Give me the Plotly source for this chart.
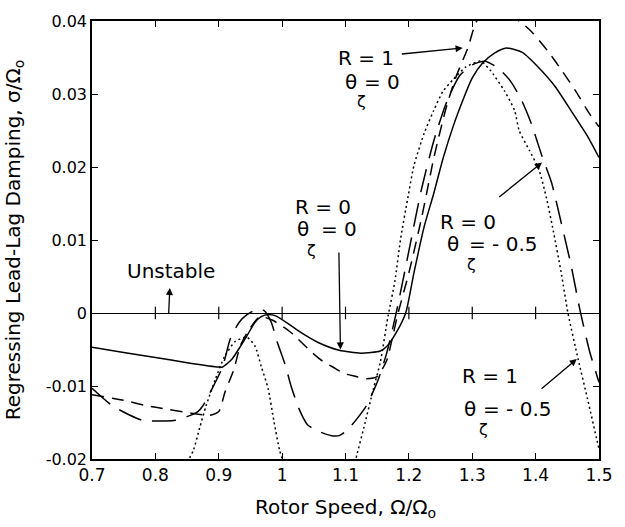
import plotly.graph_objects as go

# ---------------- data ----------------
# R = 0, theta_zeta = 0  (solid)
x_r0_t0 = [0.70, 0.75, 0.80, 0.85, 0.90, 0.906, 0.921, 0.934, 0.944, 0.957, 0.967, 0.978,
           0.99, 1.01, 1.03, 1.056, 1.09, 1.124, 1.155, 1.165, 1.18, 1.195, 1.208, 1.224,
           1.239, 1.254, 1.27, 1.285, 1.30, 1.316, 1.335, 1.354, 1.379, 1.405, 1.431,
           1.456, 1.482, 1.50]
y_r0_t0 = [-0.0047, -0.0054, -0.0061, -0.0068, -0.0074, -0.0074, -0.0063, -0.0046, -0.0032,
           -0.0013, -0.0005, -0.0002, -0.0004, -0.0015, -0.0027, -0.0040, -0.0051, -0.0055,
           -0.0052, -0.0046, -0.0027, 0.0, 0.0055, 0.0118, 0.0163, 0.0212, 0.0256, 0.0291,
           0.0322, 0.0342, 0.0356, 0.0363, 0.0357, 0.0336, 0.0310, 0.0277, 0.0242, 0.0213]

# R = 1, theta_zeta = 0  (short dash)
x_r1_t0 = [0.70, 0.734, 0.752, 0.786, 0.82, 0.855, 0.886, 0.90, 0.91, 0.924, 0.934, 0.95,
           0.965, 0.985, 1.013, 1.047, 1.064, 1.08, 1.098, 1.117, 1.13, 1.15, 1.165, 1.175,
           1.183, 1.20, 1.22, 1.24, 1.26, 1.275, 1.293, 1.308, 1.34, 1.377, 1.394, 1.42,
           1.443, 1.464, 1.485, 1.50]
y_r1_t0 = [-0.0112, -0.0117, -0.0120, -0.0127, -0.0132, -0.0137, -0.0140, -0.0135, -0.0108,
           -0.0077, -0.0045, -0.0020, -0.0005, -0.0010, -0.0026, -0.0054, -0.0066, -0.0074,
           -0.0083, -0.0087, -0.0090, -0.0087, -0.0065, -0.0030, 0.0, 0.0055, 0.0130, 0.0215,
           0.0285, 0.0325, 0.0363, 0.0401, 0.0418, 0.0398, 0.0385, 0.0358, 0.0330, 0.0303,
           0.0273, 0.0255]

# R = 0, theta_zeta = -0.5  (long dash)
x_r0_tm = [0.70, 0.732, 0.76, 0.78, 0.817, 0.832, 0.850, 0.867, 0.875, 0.887, 0.906, 0.918,
           0.932, 0.945, 0.96, 0.972, 0.983, 0.992, 1.006, 1.013, 1.026, 1.04, 1.06, 1.078,
           1.09, 1.102, 1.118, 1.133, 1.15, 1.165, 1.18, 1.20, 1.22, 1.24, 1.26, 1.28,
           1.30, 1.32, 1.34, 1.36, 1.377, 1.393, 1.41, 1.425, 1.44, 1.456, 1.47, 1.485, 1.50]
y_r0_tm = [-0.0103, -0.0127, -0.0140, -0.0147, -0.0148, -0.0147, -0.0142, -0.0135, -0.0127,
           -0.0108, -0.0074, -0.0036, -0.0013, -0.0002, 0.0005, 0.0003, -0.0013, -0.0039,
           -0.0074, -0.0097, -0.0130, -0.0153, -0.0163, -0.0168, -0.0168, -0.0161, -0.0145,
           -0.0127, -0.0095, -0.0055, 0.0, 0.0085, 0.0170, 0.0238, 0.0290, 0.0325, 0.0340,
           0.0345, 0.0336, 0.0318, 0.0293, 0.0260, 0.0215, 0.0179, 0.0125, 0.0065, 0.0004,
           -0.0052, -0.0095]

# R = 1, theta_zeta = -0.5  (dotted)
x_r1_tm = [0.85, 0.86, 0.87, 0.88, 0.895, 0.909, 0.926, 0.944, 0.957, 0.967, 0.978, 0.987,
           0.996, 1.002, None, 1.115, 1.118, 1.129, 1.144, 1.155, 1.167, 1.178, 1.187, 1.198,
           1.208, 1.224, 1.239, 1.254, 1.27, 1.29, 1.313, 1.328, 1.351, 1.367, 1.374, 1.39,
           1.405, 1.417, 1.428, 1.44, 1.451, 1.467, 1.482, 1.497, 1.50]
y_r1_tm = [-0.0205, -0.0188, -0.0157, -0.0127, -0.0090, -0.0060, -0.0039, -0.0033, -0.0045,
           -0.0073, -0.0104, -0.0148, -0.0188, -0.0205, None, -0.0205, -0.0194, -0.0157,
           -0.0104, -0.0067, -0.0005, 0.0044, 0.0102, 0.0156, 0.0202, 0.0246, 0.0277, 0.0304,
           0.0320, 0.0337, 0.0345, 0.0333, 0.0304, 0.0277, 0.0250, 0.0223, 0.0197, 0.0158,
           0.0112, 0.0057, 0.0, -0.0063, -0.0118, -0.0175, -0.0186]

x_ticks = [0.7, 0.8, 0.9, 1.0, 1.1, 1.2, 1.3, 1.4, 1.5]
x_ticktext = ["0.7", "0.8", "0.9", "1", "1.1", "1.2", "1.3", "1.4", "1.5"]
y_ticks = [-0.02, -0.01, 0.0, 0.01, 0.02, 0.03, 0.04]
y_ticktext = ["-0.02", "-0.01", "0", "0.01", "0.02", "0.03", "0.04"]

FONT = "DejaVu Sans"
LW = 1.5

fig = go.Figure()
fig.add_trace(go.Scatter(x=x_r0_t0, y=y_r0_t0, mode="lines", name="R=0, θζ=0",
                         line=dict(color="black", width=LW, shape="spline", smoothing=0.6)))
fig.add_trace(go.Scatter(x=x_r1_t0, y=y_r1_t0, mode="lines", name="R=1, θζ=0",
                         line=dict(color="black", width=LW, dash="12px,8px", shape="spline", smoothing=0.6)))
fig.add_trace(go.Scatter(x=x_r0_tm, y=y_r0_tm, mode="lines", name="R=0, θζ=-0.5",
                         line=dict(color="black", width=LW, dash="24px,11px", shape="spline", smoothing=0.6)))
fig.add_trace(go.Scatter(x=x_r1_tm, y=y_r1_tm, mode="lines", name="R=1, θζ=-0.5", connectgaps=False,
                         line=dict(color="black", width=LW, dash="2px,3px", shape="spline", smoothing=0.6)))

# tick marks on the zero line
zero_ticks = x_ticks[1:-1]
fig.add_trace(go.Scatter(x=zero_ticks, y=[0] * len(zero_ticks), mode="markers", hoverinfo="skip",
                         marker=dict(symbol="line-ns", size=9, line=dict(color="black", width=1.2))))

ann = []
def txt(x, y, s, size=20, head=None, sso=0, side="end"):
    a = dict(text=s, xref="x", yref="y", font=dict(family=FONT, size=size, color="black"))
    if head is None:
        a.update(x=x, y=y, showarrow=False)
    else:
        a.update(x=head[0], y=head[1], ax=x, ay=y, axref="x", ayref="y", showarrow=True,
                 arrowcolor="black", arrowwidth=1.3, standoff=0, startstandoff=sso,
                 arrowside=side, arrowhead=2, arrowsize=1.1,
                 startarrowhead=2, startarrowsize=1.1)
    ann.append(a)

# R = 1, theta = 0
txt(1.133, 0.0350, "R = 1", head=(1.285, 0.0363), sso=6)
txt(1.109, 0.0316, "θ")
txt(1.158, 0.0316, "= 0")
txt(1.125, 0.0290, "ζ", 16)
# R = 0, theta = 0
txt(1.064, 0.0145, "R = 0")
txt(1.033, 0.0115, "θ")
txt(1.089, 0.0115, "= 0", head=(1.092, -0.0050), sso=10)
txt(1.047, 0.0085, "ζ", 16)
# R = 0, theta = -0.5
txt(1.294, 0.0125, "R = 0", head=(1.41, 0.0206), sso=18)
txt(1.270, 0.0094, "θ")
txt(1.350, 0.0094, "= - 0.5")
txt(1.299, 0.0066, "ζ", 16)
# R = 1, theta = -0.5
txt(1.328, -0.0086, "R = 1")
txt(1.296, -0.0131, "θ")
txt(1.372, -0.0131, "= - 0.5", head=(1.465, -0.0063), sso=10)
txt(1.318, -0.0160, "ζ", 16)
# Unstable (arrow head at the text end, tail on the zero line)
txt(0.824, 0.0057, "Unstable", head=(0.821, 0.0), sso=3, side="start")

fig.update_layout(
    width=625, height=527,
    margin=dict(l=91, r=13, t=15, b=66),
    paper_bgcolor="white", plot_bgcolor="white",
    showlegend=False,
    font=dict(family=FONT, color="black"),
    annotations=ann,
)
fig.update_xaxes(range=[0.7, 1.5], tickvals=x_ticks, ticktext=x_ticktext,
                 ticks="inside", ticklen=6, tickwidth=1, tickcolor="black",
                 showline=True, linecolor="black", linewidth=1.5, mirror="ticks",
                 showgrid=False, zeroline=False,
                 tickfont=dict(family=FONT, size=17),
                 title=dict(text="Rotor Speed, Ω/Ω<sub>o</sub>", font=dict(family=FONT, size=20), standoff=16))
fig.update_yaxes(range=[-0.02, 0.04], tickvals=y_ticks, ticktext=y_ticktext,
                 ticks="inside", ticklen=6, tickwidth=1, tickcolor="black",
                 showline=True, linecolor="black", linewidth=1.5, mirror="ticks",
                 showgrid=False, zeroline=True, zerolinecolor="black", zerolinewidth=1.3,
                 tickfont=dict(family=FONT, size=16),
                 title=dict(text="Regressing Lead-Lag Damping, σ/Ω<sub>o</sub>",
                            font=dict(family=FONT, size=20), standoff=20))

fig.write_html("out.html")
